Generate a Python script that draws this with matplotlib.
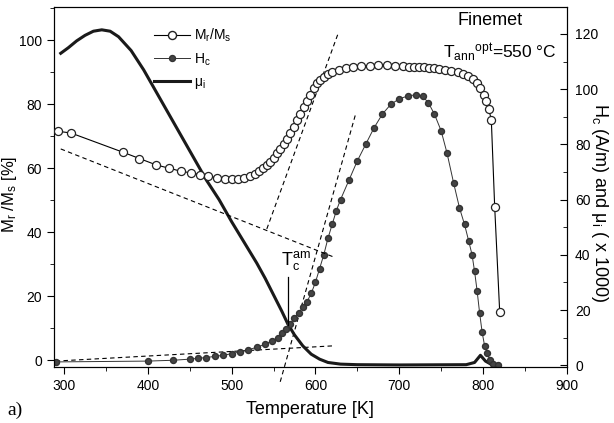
import matplotlib
matplotlib.use('Agg')
import matplotlib.pyplot as plt
from matplotlib.lines import Line2D
from matplotlib.ticker import MultipleLocator

plt.rcParams['font.family'] = ['Liberation Sans', 'DejaVu Sans']
plt.rcParams['mathtext.fontset'] = 'custom'
plt.rcParams['mathtext.rm'] = 'Liberation Sans'
plt.rcParams['mathtext.it'] = 'Liberation Sans'
plt.rcParams['mathtext.default'] = 'regular'

# Mr/Ms [%] (left axis)
mr_T = [293, 308, 370, 390, 410, 425, 440, 452, 462, 472, 482, 492, 500, 508, 515, 522,
        528, 533, 538, 542, 546, 550, 554, 558, 562, 566, 570, 574, 578, 582, 586, 590,
        594, 598, 602, 606, 610, 615, 620, 628, 636, 645, 655, 665, 675, 685, 695, 705,
        712, 718, 724, 730, 736, 742, 748, 755, 762, 770, 776, 782, 788, 793, 797, 801,
        804, 807, 810, 814, 820]
mr_val = [71.5, 71, 65, 63, 61, 60, 59, 58.5, 58, 57.5, 57, 56.7, 56.5, 56.7, 57, 57.5,
          58.3, 59, 60, 61, 62, 63.3, 64.7, 66, 67.5, 69, 71, 73, 75, 77, 79, 81,
          83, 85, 86.5, 87.5, 88.5, 89.5, 90, 90.8, 91.3, 91.6, 92, 92, 92.2, 92.2, 92, 91.8,
          91.7, 91.7, 91.6, 91.5, 91.4, 91.2, 91, 90.8, 90.5, 90, 89.5, 88.8, 87.8, 86.5, 85, 83,
          81, 78.5, 75, 48, 15]

# Hc [A/m] (right axis)
hc_T = [290, 400, 430, 450, 460, 470, 480, 490, 500, 510, 520, 530, 540, 548, 555, 560,
        565, 570, 575, 580, 585, 590, 595, 600, 605, 610, 615, 620, 625, 630, 640, 650,
        660, 670, 680, 690, 700, 710, 720, 728, 735, 742, 750, 757, 765, 772, 778, 783,
        787, 790, 793, 796, 799, 802, 805, 808, 812, 818]
hc_val = [1.2, 1.5, 1.8, 2.2, 2.5, 2.8, 3.2, 3.6, 4.2, 4.8, 5.6, 6.5, 7.6, 8.8, 10, 11.5,
          13, 15, 17, 19, 21, 23, 26, 30, 35, 40, 46, 51, 56, 60, 67, 74,
          80, 86, 91, 94.5, 96.5, 97.5, 98, 97.5, 95, 91, 85, 77, 66, 57, 51, 45,
          40, 34, 27, 19, 12, 7, 4.5, 2, 0.5, 0]

# mu_i (x 1000) (right axis)
mu_T = [296, 305, 315, 325, 335, 345, 355, 365, 380, 395, 410, 425, 440, 455, 470, 485,
        500, 515, 530, 540, 550, 560, 567, 575, 585, 595, 605, 615, 630, 650, 700, 780,
        790, 797, 803, 810, 820]
mu_val = [113, 115, 117.5, 119.5, 121, 121.5, 121, 119, 114, 107, 99, 91, 83, 75, 67, 60,
          52, 44.5, 37, 31.5, 25.5, 19.5, 15, 11, 7, 4, 2.2, 1, 0.4, 0.2, 0.1, 0.2,
          1, 3.6, 1.5, 0.3, 0]

# dashed tangents
mr_low_T = [296, 624]
mr_low_v = [66, 32]
mr_steep_T = [542, 627]
mr_steep_v = [41, 102]
hc_low_T = [290, 620]
hc_low_v = [1.5, 7]
hc_steep_T = [558, 648]
hc_steep_v = [-6, 91]

fig = plt.figure(figsize=(6.14, 4.23), dpi=100)
ax = fig.add_axes([0.088, 0.132, 0.835, 0.851])
ax2 = ax.twinx()

dash = dict(color='black', lw=0.8, dashes=(4, 3))
ax.plot(mr_low_T, mr_low_v, **dash)
ax.plot(mr_steep_T, mr_steep_v, **dash)
ax2.plot(hc_low_T, hc_low_v, **dash)
ax2.plot(hc_steep_T, hc_steep_v, clip_on=False, **dash)

ax2.plot(mu_T, mu_val, '-', color='#1a1a1a', lw=2.2)
ax2.plot(hc_T, hc_val, '-', color='#333333', lw=0.7, marker='o', ms=4.3,
         mfc='#444444', mec='#333333')
ax.plot(mr_T, mr_val, '-', color='black', lw=0.8, marker='o', ms=5.8,
        mfc='white', mec='#222222', mew=0.9, zorder=5)
ax.set_zorder(ax2.get_zorder() + 1)
ax.patch.set_visible(False)

ax.set_xlim(288, 900)
ax.set_ylim(-2.2, 110.3)
ax2.set_ylim(-0.7, 129.7)
ax.xaxis.set_major_locator(MultipleLocator(100))
ax.xaxis.set_minor_locator(MultipleLocator(50))
ax.yaxis.set_major_locator(MultipleLocator(20))
ax.yaxis.set_minor_locator(MultipleLocator(10))
ax2.yaxis.set_major_locator(MultipleLocator(20))
ax2.yaxis.set_minor_locator(MultipleLocator(10))
ax.tick_params(which='major', direction='out', length=5, labelsize=10)
ax.tick_params(which='minor', direction='out', length=3)
ax2.tick_params(which='major', direction='in', length=5, labelsize=10, pad=6)
ax2.tick_params(which='minor', direction='in', length=3)

ax.set_xlabel('Temperature [K]', fontsize=13, labelpad=6)
ax.set_ylabel(r'M$_r$ /M$_s$ [%]', fontsize=12)
ax.yaxis.set_label_coords(-0.068, 0.48)
fig.text(0.977, 0.52, r'H$_c$ (A/m) and μ$_i$ ( x 1000)', fontsize=13, rotation=270,
         ha='center', va='center')

ax2.text(577, 38, r'T$_c^{am}$', fontsize=13, ha='center', va='center')
ax2.plot([567, 567], [14.5, 32], color='black', lw=0.9)

ax.text(0.787, 0.964, 'Finemet', transform=ax.transAxes, fontsize=13, va='center')
ax.text(0.758, 0.872, r'T$_{ann}$$^{opt}$=550 °C', transform=ax.transAxes, fontsize=12.5,
        va='center')
fig.text(0.012, 0.02, 'a)', fontsize=14, family='Liberation Serif')

handles = [
    Line2D([], [], color='black', lw=0.8, marker='o', ms=5.8, mfc='white', mec='#222222'),
    Line2D([], [], color='#333333', lw=0.7, marker='o', ms=4.3, mfc='#444444', mec='#333333'),
    Line2D([], [], color='#1a1a1a', lw=2.2),
]
labels = [r'M$_r$/M$_s$', r'H$_c$', r'μ$_i$']
ax.legend(handles, labels, loc='upper left', bbox_to_anchor=(0.17, 0.98), frameon=False,
          fontsize=10, handlelength=2.6, handletextpad=0.3, labelspacing=0.5)

fig.savefig('out.png', dpi=100)
